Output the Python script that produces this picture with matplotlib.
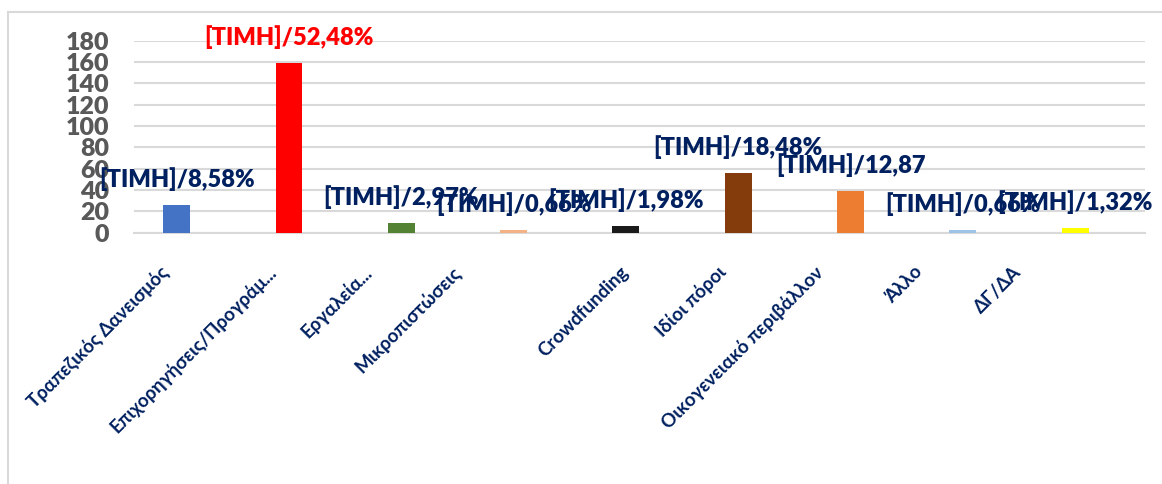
import matplotlib.pyplot as plt
import matplotlib.transforms as mtransforms
from matplotlib.lines import Line2D
import numpy as np

plt.rcParams['font.family'] = ['Lato', 'DejaVu Sans']

categories = ["Τραπεζικός Δανεισμός", "Επιχορηγήσεις/Προγράμ...", "Εργαλεία...",
              "Μικροπιστώσεις", "Crowdfunding", "Ιδίοι πόροι",
              "Οικογενειακό περιβάλλον", "Άλλο", "ΔΓ/ΔΑ"]
counts = [26, 159, 9, 2, 6, 56, 39, 2, 4]
labels = ["[ΤΙΜΗ]/8,58%", "[ΤΙΜΗ]/52,48%", "[ΤΙΜΗ]/2,97%", "[ΤΙΜΗ]/0,66%",
          "[ΤΙΜΗ]/1,98%", "[ΤΙΜΗ]/18,48%", "[ΤΙΜΗ]/12,87", "[ΤΙΜΗ]/0,66%",
          "[ΤΙΜΗ]/1,32%"]
colors = ["#4472C4", "#FF0000", "#548235", "#F4B183", "#1A1A1A",
          "#843C0C", "#ED7D31", "#9DC3E6", "#FFFF00"]
label_colors = ["#002060", "#FF0000"] + ["#002060"] * 7

navy = "#002060"
fig = plt.figure(figsize=(11.62, 4.84), dpi=100)
ax = fig.add_axes([0.1153, 0.5196, 0.87, 0.3967])

x = np.arange(len(categories))
ax.bar(x - 0.12, counts, width=0.24, color=colors, zorder=3)

for xi, v, lab, c in zip(x, counts, labels, label_colors):
    ax.annotate(lab, (xi - 0.12, v), xytext=(0, 10), textcoords="offset points",
                ha="center", va="bottom", fontsize=17, fontweight="heavy", color=c, zorder=4)

ax.set_xlim(-0.5, 8.5)
ax.set_ylim(0, 180)
ax.set_yticks(range(0, 181, 20))
ax.yaxis.grid(True, color="#D9D9D9", linewidth=1.5, zorder=0)
ax.tick_params(axis="y", length=0, pad=18, labelsize=18, labelcolor="#595959")
for t in ax.get_yticklabels():
    t.set_fontweight("heavy")

ax.set_xticks(x)
ax.set_xticklabels(categories, rotation=45, ha="right", rotation_mode="anchor", color=navy)
ax.tick_params(axis="x", length=0, pad=22)
# horizontal nudge (pixels) of each rotated label, as Excel places them
label_dx = [-31, -35, -52, -75, -20, -35, -50, -63, -76]
for t, dx in zip(ax.get_xticklabels(), label_dx):
    shift = mtransforms.ScaledTranslation(dx / 100, 0, fig.dpi_scale_trans)
    t.set_transform(t.get_transform() + shift)
    t.set_fontweight("bold")
    t.set_fontsize(13.5)

for s in ["top", "right", "left"]:
    ax.spines[s].set_visible(False)
ax.spines["bottom"].set_color("#D9D9D9")
ax.spines["bottom"].set_linewidth(1.5)

# outer chart border
fig.add_artist(Line2D([8 / 1162, 1], [1 - 12 / 484, 1 - 12 / 484], color="#D9D9D9", lw=1.5))
fig.add_artist(Line2D([8 / 1162, 8 / 1162], [0, 1 - 12 / 484], color="#D9D9D9", lw=1.5))

fig.savefig("out.png", dpi=100)
